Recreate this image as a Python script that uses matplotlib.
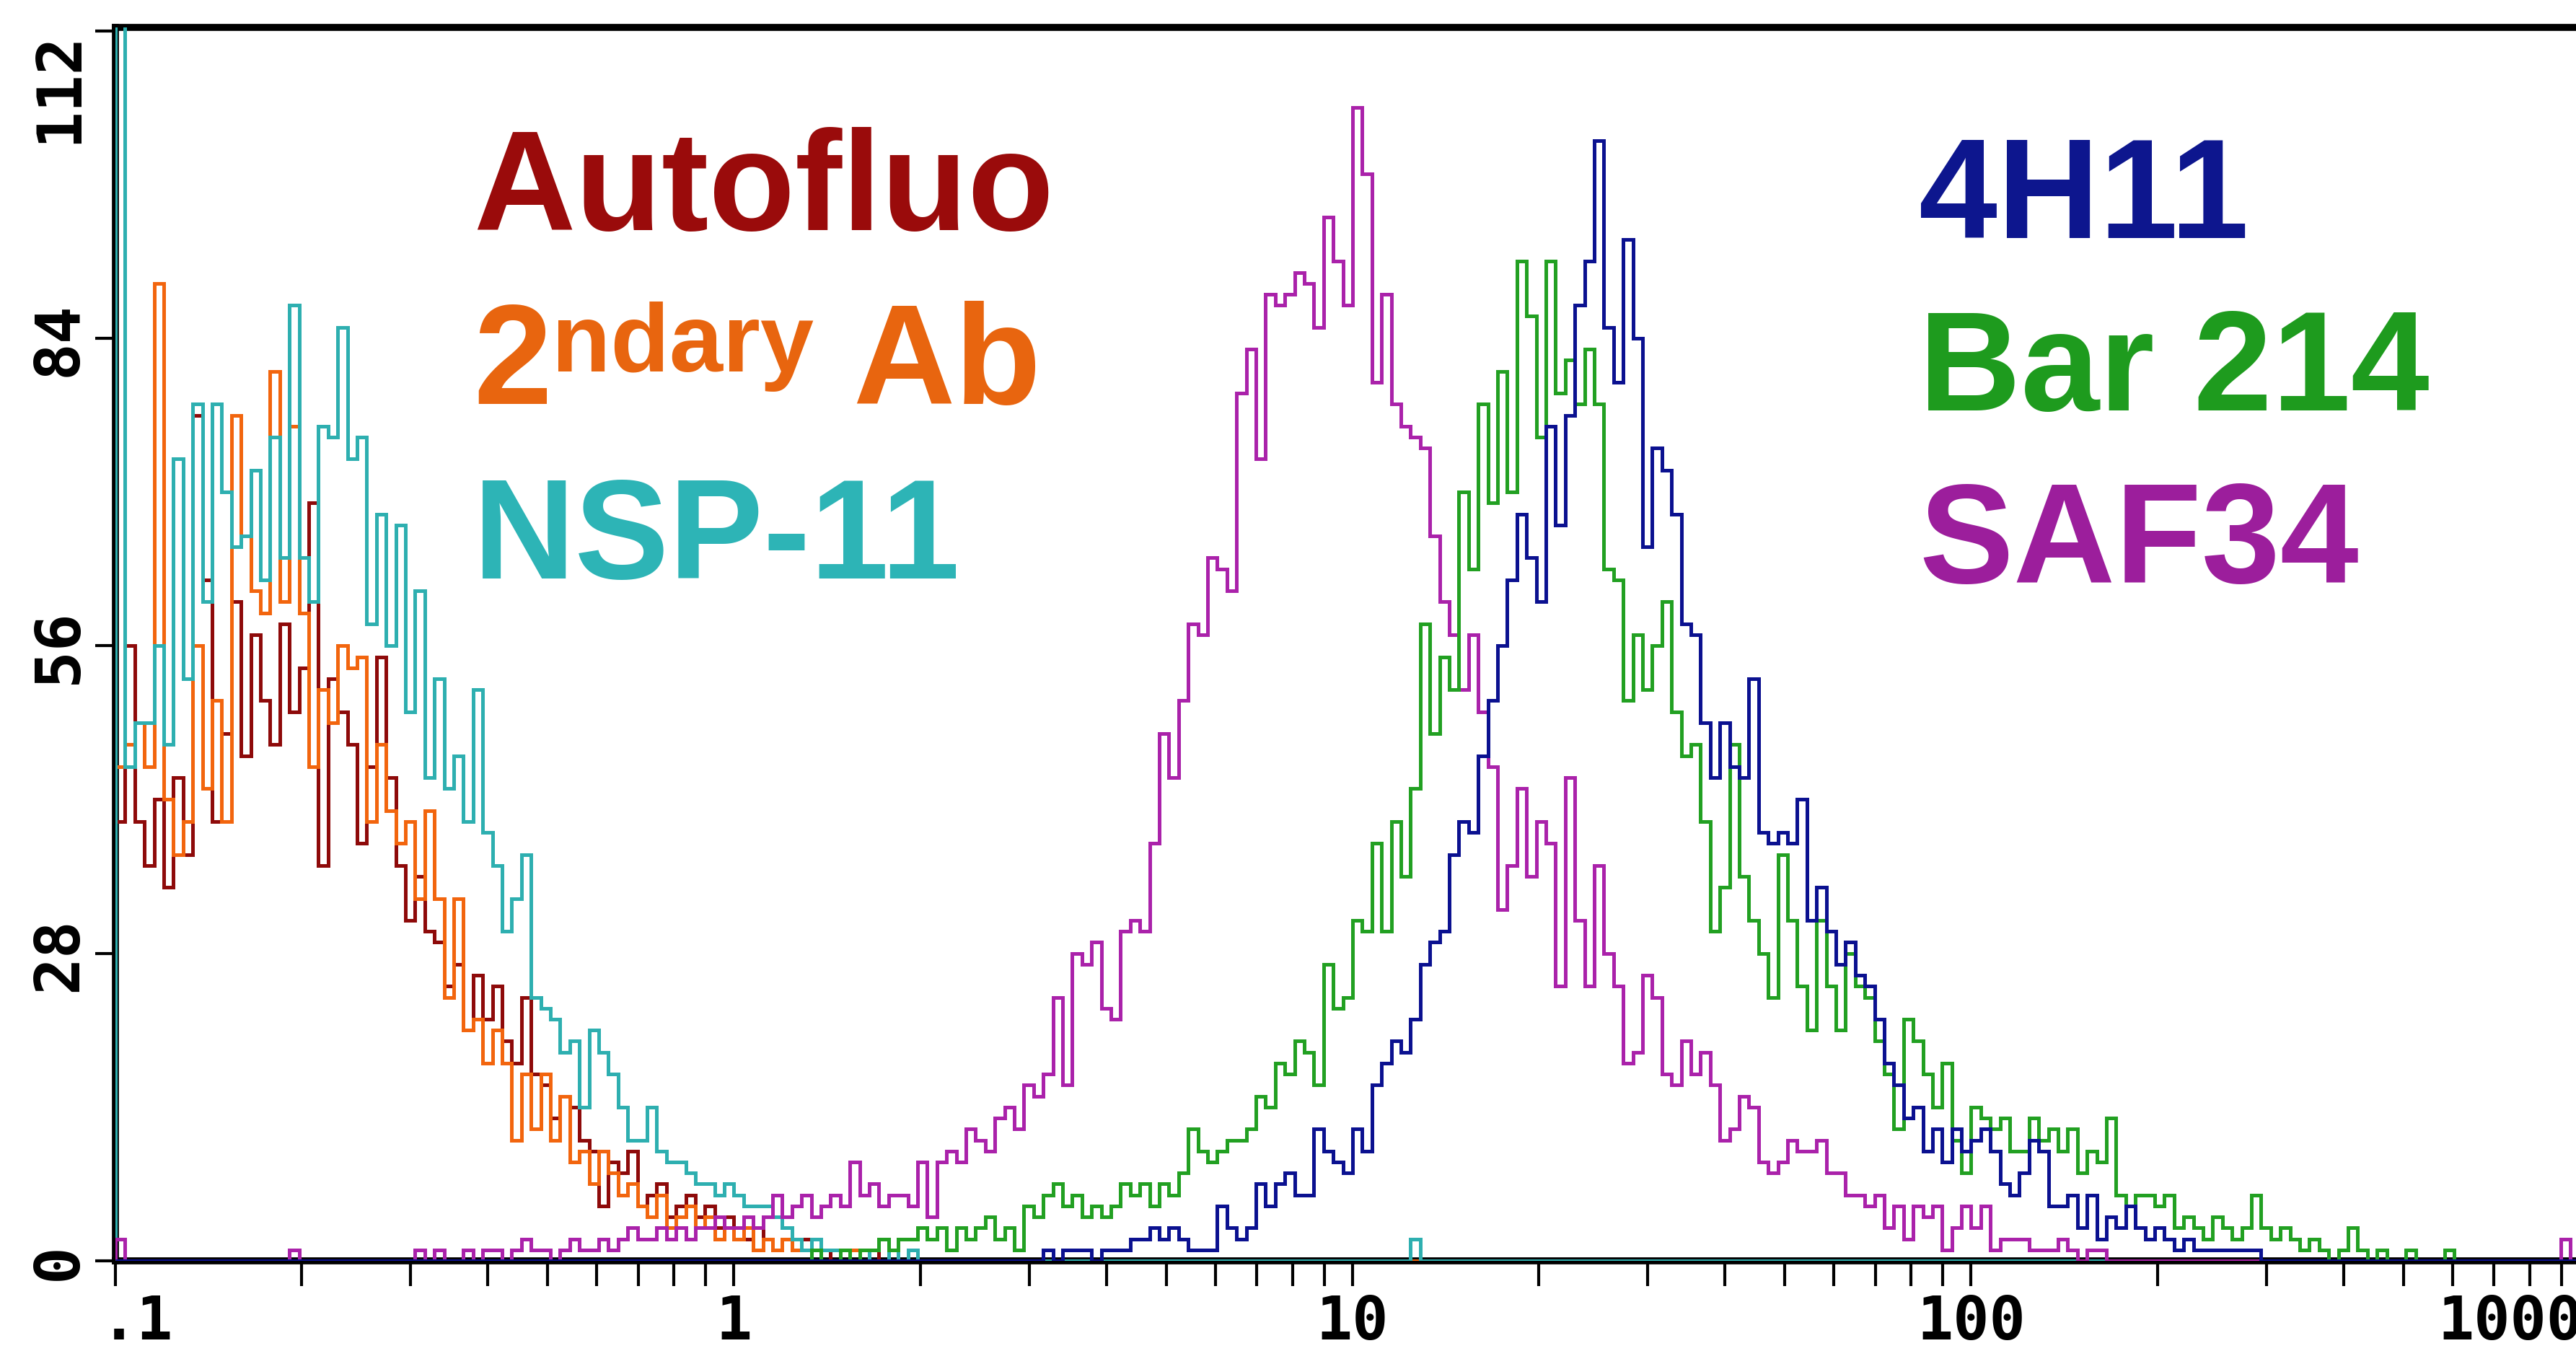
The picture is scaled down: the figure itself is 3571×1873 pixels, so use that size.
import numpy as np
import matplotlib
matplotlib.use("Agg")
import matplotlib.pyplot as plt
from matplotlib.ticker import FixedLocator, NullFormatter
from matplotlib.transforms import ScaledTranslation

# ---------------- data (counts per log channel, 64 channels / decade, 0.1 .. 1000) -------------
channels_per_decade = 64
n_channels = 256

autofluo_start = 0
autofluo = [40, 56, 40, 36, 42, 34, 44, 37, 77, 62, 40, 48, 60, 46, 57, 51, 47, 58, 50, 54,
            69, 36, 53, 50, 47, 38, 45, 55, 44, 36, 31, 35, 30, 29, 25, 27, 21, 26, 22, 25,
            20, 18, 24, 17, 16, 13, 15, 14, 11, 10, 5, 9, 8, 10, 5, 6, 7, 4, 5, 6,
            4, 5, 3, 4, 3, 2, 3, 2, 1, 2, 1, 2, 1, 1, 0, 1, 1, 0, 1]

secondary_start = 0
secondary = [45, 47, 49, 45, 89, 42, 37, 40, 56, 43, 51, 40, 77, 66, 61, 59, 81, 60, 76, 59,
             45, 52, 49, 56, 54, 55, 40, 47, 41, 38, 40, 33, 41, 33, 24, 33, 21, 22, 18, 21,
             18, 11, 17, 12, 17, 11, 15, 9, 10, 7, 10, 8, 6, 7, 5, 4, 6, 3, 4, 5,
             3, 4, 2, 3, 2, 3, 1, 2, 1, 2, 1, 1, 0, 1, 1, 0, 1]

nsp11_start = 0
nsp11 = [130, 45, 49, 49, 56, 47, 73, 53, 78, 60, 78, 70, 65, 66, 72, 62, 75, 64, 87, 64,
         60, 76, 75, 85, 73, 75, 58, 68, 56, 67, 50, 61, 44, 53, 43, 46, 40, 52, 39, 36,
         30, 33, 37, 24, 23, 22, 19, 20, 14, 21, 19, 17, 14, 11, 11, 14, 10, 9, 9, 8,
         7, 7, 6, 7, 6, 5, 5, 5, 4, 3, 2, 1, 2, 1, 1, 1, 0, 1, 0, 0,
         1, 0, 1] + [0] * 51 + [2]

saf34_start = 0
saf34 = ([2] + [0] * 17 + [1] + [0] * 12 +
         [1, 0, 1, 0, 0, 1, 0, 1, 1, 0, 1, 2, 1, 1, 0, 1, 2, 1, 1, 2,
          1, 2, 3, 2, 2, 3, 2, 3, 2, 3, 3, 4, 3, 3, 4, 3, 4, 6, 4, 5,
          6, 4, 5, 6, 5, 9, 6, 7, 5, 6, 6, 5, 9, 4, 9, 10, 9, 12, 11, 10,
          13, 14, 12, 16, 15, 17, 24, 16, 28, 27, 29, 23, 22, 30, 31, 30, 38, 48, 44, 51,
          58, 57, 64, 63, 61, 79, 83, 73, 88, 87, 88, 90, 89, 85, 95, 91, 87, 105, 99, 80,
          88, 78, 76, 75, 74, 66, 60, 57, 52, 57, 50, 45, 32, 36, 43, 35, 40, 38, 25, 44,
          31, 25, 36, 28, 25, 18, 19, 26, 24, 17, 16, 20, 17, 19, 16, 11, 12, 15, 14, 9,
          8, 9, 11, 10, 10, 11, 8, 8, 6, 6, 5, 6, 3, 5, 2, 5, 4, 5, 1, 3,
          5, 3, 5, 1, 2, 2, 2, 1, 1, 1, 2, 1, 0, 1, 1] + [0] * 47 + [2])

bar214_start = 70
bar214 = [0, 0, 1, 0, 0, 1, 0, 1,
          1, 2, 1, 2, 2, 3, 2, 3, 1, 3, 2, 3, 4, 2, 3, 1, 5, 4, 6, 7, 5, 6,
          4, 5, 4, 5, 7, 6, 7, 5, 7, 6, 8, 12, 10, 9, 10, 11, 11, 12, 15, 14,
          18, 17, 20, 19, 16, 27, 23, 24, 31, 30, 38, 30, 40, 35, 43, 58, 48, 55, 52, 70,
          63, 78, 69, 81, 70, 91, 86, 75, 91, 79, 82, 78, 83, 78, 63, 62, 51, 57, 52, 56,
          60, 50, 46, 47, 40, 30, 34, 47, 35, 31, 28, 24, 37, 31, 25, 21, 31, 25, 21, 28,
          25, 24, 20, 17, 12, 22, 20, 17, 14, 18, 11, 8, 14, 13, 12, 13, 10, 10, 13, 11,
          12, 10, 12, 8, 10, 9, 13, 6, 5, 6, 6, 5, 6, 3, 4, 3, 2, 4, 3, 2,
          3, 6, 3, 2, 3, 2, 1, 2, 1, 0, 1, 3, 1, 0, 1, 0, 0, 1, 0, 0, 0, 1]

h4h11_start = 96
h4h11 = [1, 0, 1, 1, 1, 0, 1, 1, 1, 2, 2, 3, 2, 3, 2, 1, 1, 1, 5, 3,
         2, 3, 7, 5, 7, 8, 6, 6, 12, 10, 9, 8, 12, 10, 16, 18, 20, 19, 22, 27,
         29, 30, 37, 40, 39, 46, 51, 56, 62, 68, 64, 60, 76, 67, 77, 87, 91, 102, 85, 80,
         93, 84, 65, 74, 72, 68, 58, 57, 49, 44, 49, 45, 44, 53, 39, 38, 39, 38, 42, 31,
         34, 30, 27, 29, 26, 25, 22, 18, 16, 13, 14, 10, 12, 9, 12, 10, 11, 12, 10, 7,
         6, 8, 11, 10, 5, 5, 6, 3, 6, 2, 4, 3, 5, 3, 2, 3, 2, 1, 2, 1,
         1, 1, 1, 1, 1, 1]

series_names = ["Autofluo", "2ndary Ab", "NSP-11", "SAF34", "Bar 214", "4H11"]
y_ticks = [0, 28, 56, 84, 112]
y_tick_labels = ["0", "28", "56", "84", "112"]
x_ticks = [0.1, 1, 10, 100, 1000]
x_tick_labels = [".1", "1", "10", "100", "1000"]

# ---------------- figure ----------------
W, H, DPI = 3571, 1874, 100
fig = plt.figure(figsize=(W / DPI, H / DPI), dpi=DPI)
fig.patch.set_facecolor("white")
ax = fig.add_axes([160 / W, 1 - 1749 / H, (3590 - 160) / W, (1749 - 39) / H])

edges = 10.0 ** (-1 + np.arange(n_channels + 1) / channels_per_decade)


def full(values, start):
    arr = np.zeros(n_channels)
    arr[start:start + len(values)] = values
    return arr


line_colors = {
    "Autofluo": "#8E0A0A",
    "2ndary Ab": "#F2650E",
    "NSP-11": "#2EAFB0",
    "SAF34": "#AA22AA",
    "Bar 214": "#22A022",
    "4H11": "#0B1190",
}
data = {
    "Autofluo": (autofluo, autofluo_start),
    "2ndary Ab": (secondary, secondary_start),
    "NSP-11": (nsp11, nsp11_start),
    "SAF34": (saf34, saf34_start),
    "Bar 214": (bar214, bar214_start),
    "4H11": (h4h11, h4h11_start),
}
for name in series_names:
    vals, st = data[name]
    ax.stairs(full(vals, st), edges, color=line_colors[name], linewidth=3.6, zorder=3)

ax.set_xscale("log")
ax.set_xlim(0.1, 1000)
ax.set_ylim(0, 112.3)

for side in ["top", "left", "bottom"]:
    ax.spines[side].set_linewidth(7)
    ax.spines[side].set_color("black")
ax.spines["right"].set_visible(False)

ax.xaxis.set_major_locator(FixedLocator(x_ticks))
ax.xaxis.set_minor_locator(FixedLocator([m * 10.0 ** e for e in range(-1, 3) for m in range(2, 10)]))
ax.xaxis.set_minor_formatter(NullFormatter())
ax.set_xticklabels(x_tick_labels)
ax.set_yticks(y_ticks)
ax.set_yticklabels(y_tick_labels)

ax.tick_params(axis="x", which="both", direction="out", length=25, width=3, pad=7)
ax.tick_params(axis="y", which="major", direction="out", length=20, width=3, pad=6)
for lab in ax.get_xticklabels():
    lab.set_fontfamily("DejaVu Sans Mono"); lab.set_fontweight("bold"); lab.set_fontsize(60)
ylabs = ax.get_yticklabels()
for lab in ylabs:
    lab.set_fontfamily("DejaVu Sans Mono"); lab.set_fontweight("bold"); lab.set_fontsize(62)
    lab.set_rotation(90); lab.set_verticalalignment("center")
ylabs[-1].set_verticalalignment("top")

# edge labels are nudged inward, as in the instrument print-out
xt = ax.xaxis.get_major_ticks()
xt[0].label1.set_transform(xt[0].label1.get_transform() + ScaledTranslation(0.30, 0, fig.dpi_scale_trans))
xt[-1].label1.set_transform(xt[-1].label1.get_transform() + ScaledTranslation(-1.10, 0, fig.dpi_scale_trans))

# ---------------- labels ----------------
lab_font = dict(family="Liberation Sans", weight="bold", fontsize=141)
txt_colors = {
    "Autofluo": "#9A0B0B",
    "2ndary Ab": "#E8650F",
    "NSP-11": "#2DB4B6",
    "4H11": "#0D168E",
    "Bar 214": "#1E9B1E",
    "SAF34": "#9C1E9C",
}
xl, xr = 288 / 1568, 1168 / 1568
fig.text(xl, 1 - 140 / 823, "Autofluo", color=txt_colors["Autofluo"], va="baseline", **lab_font)
fig.text(xl, 1 - 246 / 823, "2", color=txt_colors["2ndary Ab"], va="baseline", **lab_font)
fig.text(336 / 1568, 1 - 226 / 823, "ndary", color=txt_colors["2ndary Ab"], va="baseline",
         family="Liberation Sans", weight="bold", fontsize=96)
fig.text(519 / 1568, 1 - 246 / 823, "Ab", color=txt_colors["2ndary Ab"], va="baseline", **lab_font)
fig.text(xl, 1 - 352 / 823, "NSP-11", color=txt_colors["NSP-11"], va="baseline", **lab_font)
fig.text(xr, 1 - 145 / 823, "4H11", color=txt_colors["4H11"], va="baseline", **lab_font)
fig.text(xr, 1 - 250 / 823, "Bar 214", color=txt_colors["Bar 214"], va="baseline", **lab_font)
fig.text(xr, 1 - 355 / 823, "SAF34", color=txt_colors["SAF34"], va="baseline", **lab_font)

fig.savefig("out.png", dpi=DPI, facecolor="white")
